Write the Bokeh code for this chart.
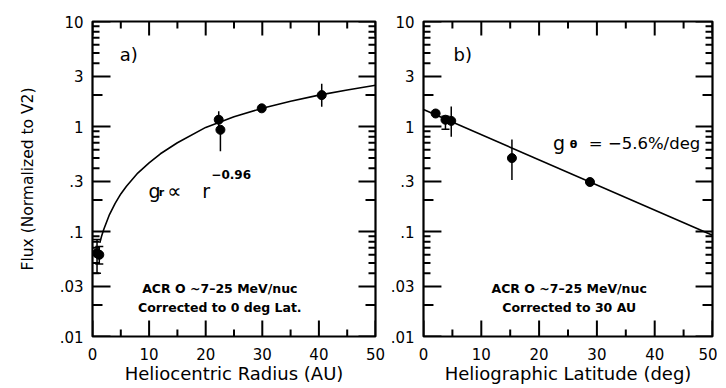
from bokeh.plotting import figure
from bokeh.models import (Label, Whisker, ColumnDataSource, Range1d, TeeHead,
                          CustomJSTickFormatter, FixedTicker)
from bokeh.layouts import row
from bokeh.embed import file_html
from bokeh.resources import INLINE

# ---------------- data ----------------
# panel a) flux vs heliocentric radius
radius_r = [0.8, 1.2, 22.3, 22.6, 29.9, 40.5]
radius_flux = [0.062, 0.060, 1.16, 0.93, 1.49, 1.99]
radius_lo = [0.040, 0.049, 0.95, 0.58, 1.49, 1.54]
radius_hi = [0.084, 0.072, 1.40, 1.00, 1.49, 2.56]
radius_capped = [True, True, False, False, False, False]
fit_r = [1.3, 1.6, 2, 3, 4, 5, 6, 8, 10, 12, 15, 20, 25, 30, 35, 40, 45, 50]
fit_r_flux = [0.078, 0.09, 0.105, 0.145, 0.185, 0.228, 0.27, 0.36, 0.45, 0.55, 0.70,
              0.98, 1.24, 1.49, 1.74, 1.99, 2.23, 2.47]

# panel b) flux vs heliographic latitude
lat = [2.1, 3.8, 4.8, 15.3, 28.8]
lat_flux = [1.33, 1.16, 1.13, 0.50, 0.296]
lat_lo = [1.33, 0.94, 0.80, 0.31, 0.296]
lat_hi = [1.33, 1.25, 1.55, 0.75, 0.296]
lat_capped = [False, True, False, False, False]
fit_lat = [0, 50]
fit_lat_flux = [1.45, 0.092]

# ticks
x_ticks = [0, 10, 20, 30, 40, 50]
x_minor = [5, 15, 25, 35, 45]
y_ticks = [0.01, 0.03, 0.1, 0.3, 1, 3, 10]
y_mid = [0.02, 0.2, 2]
y_minor = [0.04, 0.05, 0.06, 0.07, 0.08, 0.09,
           0.4, 0.5, 0.6, 0.7, 0.8, 0.9,
           4, 5, 6, 7, 8, 9]

FONT = "DejaVu Sans"
H = 386
TOP, BOTTOM = 21, 50
FRAME_H = H - TOP - BOTTOM
XMIN, XMAX, YMIN, YMAX = 0.0, 50.0, 0.01, 10.0
DECADES = 3.0
TICK_COLOR = "black"


def yfmt():
    return CustomJSTickFormatter(code="""
        var s = tick.toString();
        if (tick < 1) { s = s.replace(/^0/, ''); }
        return s;
    """)


def ticks(p, vals, edge, length_px, frame_w):
    n = len(vals)
    vals = [float(v) for v in vals]
    dx = length_px * (XMAX - XMIN) / frame_w
    fy = 10 ** (length_px * DECADES / FRAME_H)
    if edge == "left":
        src = dict(x0=[XMIN] * n, y0=vals, x1=[XMIN + dx] * n, y1=vals)
    elif edge == "right":
        src = dict(x0=[XMAX] * n, y0=vals, x1=[XMAX - dx] * n, y1=vals)
    elif edge == "bottom":
        src = dict(x0=vals, y0=[YMIN] * n, x1=vals, y1=[YMIN * fy] * n)
    else:
        src = dict(x0=vals, y0=[YMAX] * n, x1=vals, y1=[YMAX / fy] * n)
    p.segment(x0="x0", y0="y0", x1="x1", y1="y1", source=ColumnDataSource(src),
              line_color=TICK_COLOR, line_width=2)


def make_fig(width, bl, br, xlabel, ylabel):
    p = figure(width=width, height=H, x_range=Range1d(XMIN, XMAX), y_range=Range1d(YMIN, YMAX),
               y_axis_type="log", output_backend="svg", toolbar_location=None,
               min_border_left=bl, min_border_right=br, min_border_top=TOP,
               min_border_bottom=BOTTOM)
    p.grid.visible = False
    p.outline_line_color = "black"
    p.outline_line_width = 2.2

    xa = p.xaxis[0]
    xa.ticker = FixedTicker(ticks=x_ticks, minor_ticks=[])
    xa.major_tick_in = 0
    xa.major_tick_out = 0
    xa.axis_line_color = None
    xa.major_label_text_font = FONT
    xa.major_label_text_font_size = "15px"
    xa.major_label_text_color = "black"
    xa.major_label_standoff = 11
    xa.axis_label = xlabel
    xa.axis_label_text_font = FONT
    xa.axis_label_text_font_size = "18px"
    xa.axis_label_text_font_style = "normal"
    xa.axis_label_text_color = "black"
    xa.axis_label_standoff = 0

    ya = p.yaxis[0]
    ya.ticker = FixedTicker(ticks=y_ticks, minor_ticks=[])
    ya.formatter = yfmt()
    ya.major_tick_in = 0
    ya.major_tick_out = 0
    ya.axis_line_color = None
    ya.major_label_text_font = FONT
    ya.major_label_text_font_size = "15px"
    ya.major_label_text_color = "black"
    ya.major_label_standoff = 9
    if ylabel:
        ya.axis_label = ylabel
        ya.axis_label_text_font = FONT
        ya.axis_label_text_font_size = "15.5px"
        ya.axis_label_text_font_style = "normal"
        ya.axis_label_text_color = "black"
        ya.axis_label_standoff = 20
    return p


def add_ticks(p, frame_w):
    ticks(p, y_ticks, "left", 18, frame_w)
    ticks(p, y_mid, "left", 10, frame_w)
    ticks(p, y_minor, "left", 7, frame_w)
    ticks(p, y_ticks, "right", 17, frame_w)
    ticks(p, y_mid, "right", 10, frame_w)
    ticks(p, y_minor, "right", 7, frame_w)
    ticks(p, x_ticks, "bottom", 16, frame_w)
    ticks(p, x_minor, "bottom", 7, frame_w)
    ticks(p, x_ticks, "top", 14, frame_w)
    ticks(p, x_minor, "top", 7, frame_w)


def add_points(p, xs, ys, lo, hi, capped):
    idx_c = [i for i, c in enumerate(capped) if c]
    idx_n = [i for i, c in enumerate(capped) if not c]
    src_c = ColumnDataSource(dict(x=[xs[i] for i in idx_c], lo=[lo[i] for i in idx_c],
                                  hi=[hi[i] for i in idx_c]))
    src_n = ColumnDataSource(dict(x=[xs[i] for i in idx_n], lo=[lo[i] for i in idx_n],
                                  hi=[hi[i] for i in idx_n]))
    p.add_layout(Whisker(source=src_c, base="x", upper="hi", lower="lo", dimension="height",
                         line_color="black", line_width=1.5,
                         upper_head=TeeHead(size=8, line_width=1.5, line_color="black"),
                         lower_head=TeeHead(size=8, line_width=1.5, line_color="black")))
    p.add_layout(Whisker(source=src_n, base="x", upper="hi", lower="lo", dimension="height",
                         line_color="black", line_width=1.5, upper_head=None, lower_head=None))
    p.scatter(xs, ys, marker="circle", size=9, fill_color="black", line_color="black")


def lab(p, x, y, text, size, bold=False, align="left", baseline="alphabetic"):
    p.add_layout(Label(x=x, y=y, text=text, text_font=FONT, text_font_size=size,
                       text_font_style="bold" if bold else "normal", text_color="black",
                       text_align=align, text_baseline=baseline))


# ---------------- panel a ----------------
pa = make_fig(387, 92, 12, "Heliocentric Radius (AU)", "Flux (Normalized to V2)")
add_ticks(pa, 387 - 92 - 12)
pa.line(fit_r, fit_r_flux, line_color="black", line_width=1.6)
add_points(pa, radius_r, radius_flux, radius_lo, radius_hi, radius_capped)
lab(pa, 4.8, 4.8, "a)", "18px", baseline="middle")
lab(pa, 9.9, 0.244, "g", "19px")
lab(pa, 11.7, 0.236, "r", "11px", bold=True)
lab(pa, 13.2, 0.244, "\u221d", "20px")
lab(pa, 19.4, 0.244, "r", "19px")
lab(pa, 21.0, 0.352, "\u22120.96", "12px", bold=True)
lab(pa, 22.5, 0.0284, "ACR O ~7\u201325 MeV/nuc", "12.5px", bold=True, align="center", baseline="middle")
lab(pa, 22.5, 0.0188, "Corrected to 0 deg Lat.", "12.5px", bold=True, align="center", baseline="middle")

# ---------------- panel b ----------------
pb = make_fig(330, 35, 5, "Heliographic Latitude (deg)", None)
add_ticks(pb, 330 - 35 - 5)
pb.line(fit_lat, fit_lat_flux, line_color="black", line_width=1.6)
add_points(pb, lat, lat_flux, lat_lo, lat_hi, lat_capped)
lab(pb, 5.2, 4.8, "b)", "18px", baseline="middle")
lab(pb, 22.4, 0.69, "g", "19px")
lab(pb, 25.3, 0.67, "\u03b8", "11px", bold=True)
lab(pb, 28.6, 0.69, "= \u22125.6%/deg", "16.5px")
lab(pb, 25.2, 0.0284, "ACR O ~7\u201325 MeV/nuc", "12.5px", bold=True, align="center", baseline="middle")
lab(pb, 25.2, 0.0188, "Corrected to 30 AU", "12.5px", bold=True, align="center", baseline="middle")

layout = row(pa, pb)
open("out.html", "w").write(file_html(layout, INLINE))
